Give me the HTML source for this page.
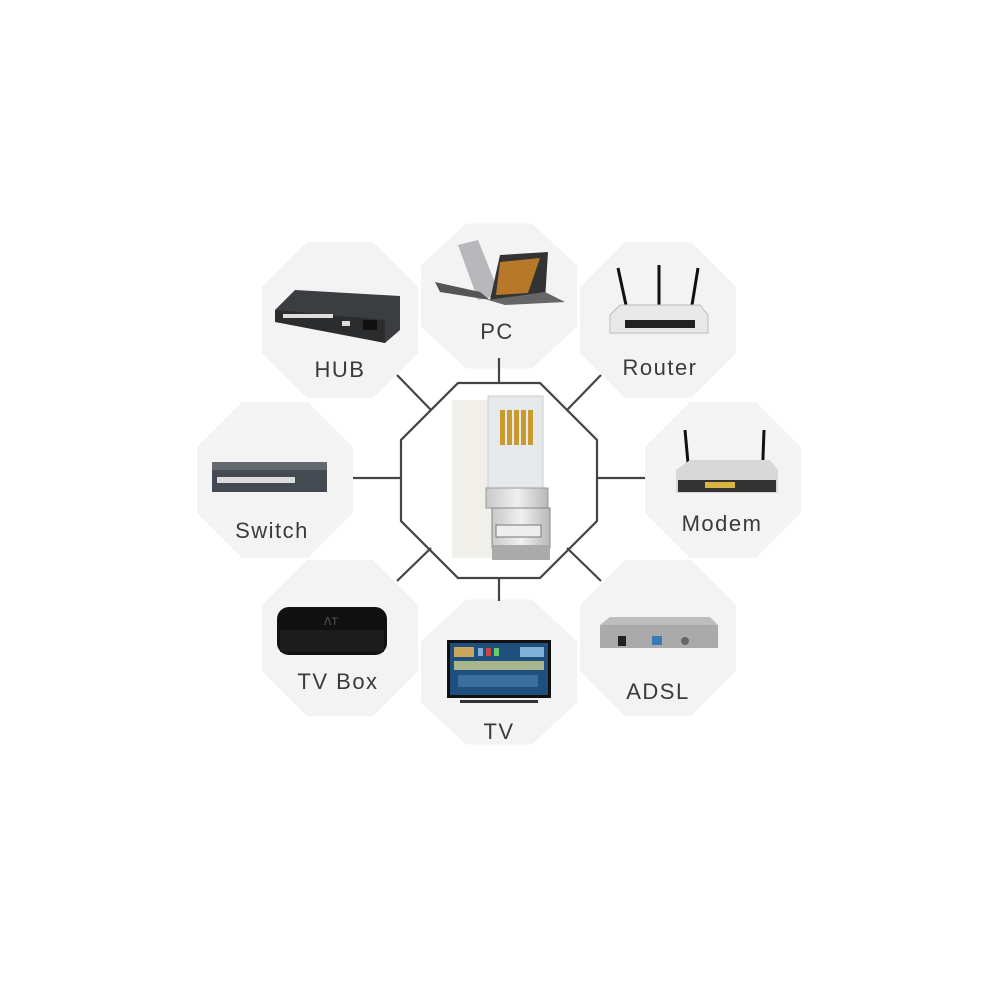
<!DOCTYPE html>
<html><head><meta charset="utf-8"><style>
html,body{margin:0;padding:0;background:#fff;}
svg{display:block}
text{font-family:"Liberation Sans",sans-serif;font-size:22px;fill:#3a3a3a;letter-spacing:1.5px;text-anchor:middle}
</style></head><body>
<svg width="1000" height="1000" viewBox="0 0 1000 1000">
<defs>
<polygon id="oct" points="-33,-78 33,-78 78,-33 78,33 33,78 -33,78 -78,33 -78,-33"/>
<linearGradient id="gm" x1="0" x2="1"><stop offset="0" stop-color="#c8c8c8"/><stop offset=".5" stop-color="#f0f0f0"/><stop offset="1" stop-color="#b8b8b8"/></linearGradient>
</defs>
<g fill="#f3f3f3">
<use href="#oct" x="340" y="320"/>
<use href="#oct" x="499" y="296" transform="translate(499 296) scale(1 .93) translate(-499 -296)"/>
<use href="#oct" x="658" y="320"/>
<use href="#oct" x="275" y="480"/>
<use href="#oct" x="723" y="480"/>
<use href="#oct" x="340" y="638"/>
<use href="#oct" x="499" y="672" transform="translate(499 672) scale(1 .93) translate(-499 -672)"/>
<use href="#oct" x="658" y="638"/>
</g>
<g stroke="#444" stroke-width="2.2" fill="none">
<polygon points="458,383 540,383 597,440 597,521 540,578 458,578 401,521 401,440" fill="#fff"/>
<line x1="499" y1="358" x2="499" y2="383"/>
<line x1="353" y1="478" x2="401" y2="478"/>
<line x1="597" y1="478" x2="645" y2="478"/>
<line x1="499" y1="578" x2="499" y2="601"/>
<line x1="397" y1="375" x2="431" y2="410"/>
<line x1="601" y1="375" x2="567" y2="410"/>
<line x1="397" y1="581" x2="431" y2="548"/>
<line x1="601" y1="581" x2="567" y2="548"/>
</g>
<!-- RJ45 connector -->
<rect x="452" y="400" width="40" height="158" fill="#f1efea"/>
<rect x="488" y="396" width="55" height="95" fill="#e6e9ec" stroke="#ccc"/>
<g fill="#c99a2e"><rect x="500" y="410" width="5" height="35"/><rect x="507" y="410" width="5" height="35"/><rect x="514" y="410" width="5" height="35"/><rect x="521" y="410" width="5" height="35"/><rect x="528" y="410" width="5" height="35"/></g>
<rect x="486" y="488" width="62" height="20" fill="url(#gm)" stroke="#999"/>
<rect x="492" y="508" width="58" height="40" fill="url(#gm)" stroke="#888"/>
<rect x="496" y="525" width="45" height="12" fill="#eee" stroke="#777"/>
<rect x="492" y="545" width="58" height="15" fill="#aaa"/>
<!-- HUB -->
<polygon points="275,310 295,290 400,296 400,330 385,343 275,320" fill="#3b3d40"/>
<polygon points="275,310 385,320 385,343 275,322" fill="#2b2c2e"/>
<g fill="#ddd"><rect x="283" y="314" width="50" height="4"/><rect x="342" y="321" width="8" height="5"/><rect x="363" y="320" width="14" height="10" fill="#111"/></g>
<!-- PC laptops -->
<polygon points="458,245 478,240 500,295 478,300" fill="#b8b8bc"/>
<polygon points="435,282 480,292 490,300 440,292" fill="#555"/>
<polygon points="490,300 500,255 548,252 545,300" fill="#333"/>
<polygon points="500,262 540,258 528,293 496,295" fill="#b7782a"/>
<polygon points="488,300 545,292 565,302 505,305" fill="#666"/>
<!-- Router -->
<g stroke="#111" stroke-width="3"><line x1="618" y1="268" x2="626" y2="305"/><line x1="659" y1="265" x2="659" y2="305"/><line x1="698" y1="268" x2="692" y2="305"/></g>
<polygon points="610,315 620,305 700,305 708,315 708,333 610,333" fill="#e8e8e8" stroke="#bbb"/>
<rect x="625" y="320" width="70" height="8" fill="#222"/>
<!-- Switch -->
<rect x="212" y="462" width="115" height="8" fill="#64686f"/>
<rect x="212" y="470" width="115" height="22" fill="#444a52"/>
<g fill="#ddd"><rect x="217" y="477" width="78" height="6"/></g>
<!-- Modem -->
<line x1="685" y1="430" x2="690" y2="485" stroke="#111" stroke-width="3"/>
<line x1="764" y1="430" x2="762" y2="485" stroke="#111" stroke-width="3"/>
<polygon points="676,470 690,460 770,460 778,470 778,493 676,493" fill="#d8d8d8"/>
<rect x="678" y="480" width="98" height="12" fill="#333"/>
<rect x="705" y="482" width="30" height="6" fill="#d9b441"/>
<!-- TV Box -->
<rect x="277" y="607" width="110" height="48" rx="12" fill="#111"/>
<rect x="280" y="630" width="104" height="22" fill="#1c1c1c"/>
<text x="331" y="625" style="font-size:11px;fill:#555;letter-spacing:0">ᐱT</text>
<!-- TV -->
<rect x="447" y="640" width="104" height="58" fill="#111"/>
<rect x="450" y="643" width="98" height="52" fill="#1f4f7d"/>
<g fill="#7fb0d8"><rect x="454" y="647" width="20" height="10" fill="#c9a75e"/><rect x="478" y="648" width="5" height="8"/><rect x="486" y="648" width="5" height="8" fill="#c44"/><rect x="494" y="648" width="5" height="8" fill="#6c6"/><rect x="520" y="647" width="24" height="10"/><rect x="454" y="661" width="90" height="9" fill="#a9b58a"/><rect x="458" y="675" width="80" height="12" fill="#3a6e9c"/></g>
<rect x="460" y="700" width="78" height="3" fill="#333"/>
<!-- ADSL -->
<polygon points="600,625 610,617 710,617 718,625 718,648 600,648" fill="#bdbdbd"/>
<rect x="600" y="625" width="118" height="23" fill="#aaa"/>
<rect x="618" y="636" width="8" height="10" fill="#222"/>
<rect x="652" y="636" width="10" height="9" fill="#3a78b8"/>
<circle cx="685" cy="641" r="4" fill="#666"/>
<text x="340" y="377">HUB</text>
<text x="497" y="339">PC</text>
<text x="660" y="375">Router</text>
<text x="272" y="538">Switch</text>
<text x="722" y="531">Modem</text>
<text x="338" y="689">TV Box</text>
<text x="499" y="739">TV</text>
<text x="658" y="699">ADSL</text>
</svg>
</body></html>
